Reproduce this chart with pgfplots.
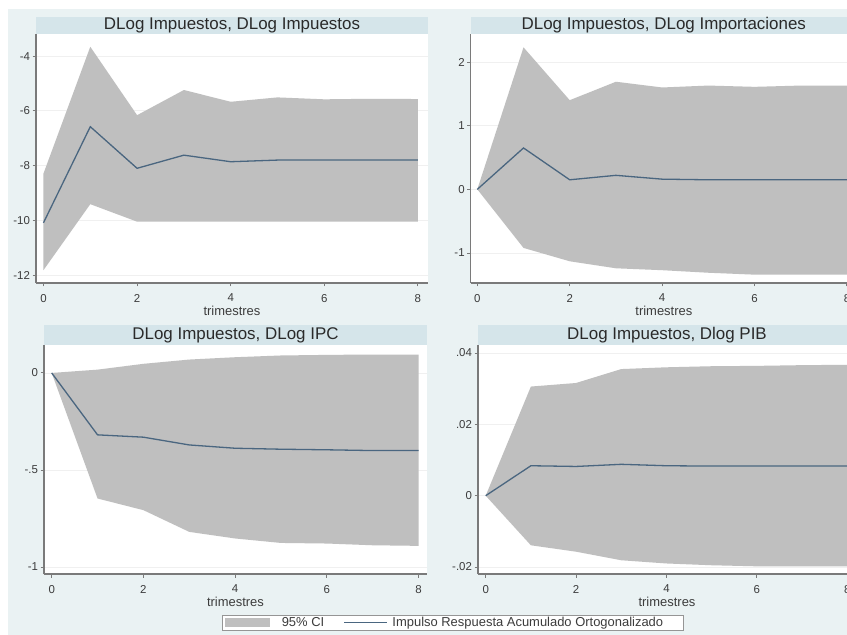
\documentclass[border=0pt]{standalone}
\usepackage{fontspec}
\setmainfont{Liberation Sans}
\usepackage{pgfplots}
\pgfplotsset{compat=1.18}
\usepackage{pgfplotstable}
\definecolor{bgblue}{HTML}{EAF2F3}
\definecolor{barblue}{HTML}{D5E5EA}
\definecolor{band}{HTML}{BFBFBF}
\definecolor{irfline}{HTML}{4A6680}
\definecolor{axcol}{HTML}{7A7A7A}
\definecolor{txt}{HTML}{3C3C3C}
\definecolor{ttl}{HTML}{2A2A2A}

% point estimates (accumulated orthogonalized IRF)
\pgfplotstableread{
x est
0 -10.09
1 -6.58
2 -8.10
3 -7.62
4 -7.86
5 -7.80
6 -7.80
7 -7.80
8 -7.80
}\estTL
\pgfplotstableread{
x est
0 0
1 0.65
2 0.15
3 0.22
4 0.16
5 0.15
6 0.15
7 0.15
8 0.15
}\estTR
\pgfplotstableread{
x est
0 0
1 -0.319
2 -0.331
3 -0.371
4 -0.388
5 -0.393
6 -0.396
7 -0.400
8 -0.400
}\estBL
\pgfplotstableread{
x est
0 0
1 0.0084
2 0.0082
3 0.0088
4 0.0084
5 0.0083
6 0.0083
7 0.0083
8 0.0083
}\estBR
% 95% CI bands: upper bound 0..8, then lower bound 8..0
\pgfplotstableread{
x y
0 -8.29
1 -3.66
2 -6.16
3 -5.24
4 -5.67
5 -5.51
6 -5.58
7 -5.56
8 -5.57
8 -10.05
7 -10.05
6 -10.05
5 -10.05
4 -10.05
3 -10.05
2 -10.05
1 -9.41
0 -11.82
}\ciTL
\pgfplotstableread{
x y
0 0
1 2.23
2 1.40
3 1.69
4 1.60
5 1.63
6 1.61
7 1.63
8 1.63
8 -1.34
7 -1.34
6 -1.34
5 -1.31
4 -1.27
3 -1.24
2 -1.13
1 -0.92
0 0
}\ciTR
\pgfplotstableread{
x y
0 0
1 0.017
2 0.047
3 0.069
4 0.081
5 0.090
6 0.093
7 0.095
8 0.095
8 -0.891
7 -0.888
6 -0.879
5 -0.876
4 -0.853
3 -0.819
2 -0.707
1 -0.647
0 0
}\ciBL
\pgfplotstableread{
x y
0 0
1 0.0306
2 0.0316
3 0.0355
4 0.0360
5 0.0363
6 0.0364
7 0.0366
8 0.0367
8 -0.0198
7 -0.0198
6 -0.0198
5 -0.0195
4 -0.0190
3 -0.0181
2 -0.0157
1 -0.0139
0 0
}\ciBR

\pgfplotsset{irf/.style={
  scale only axis, axis lines=left,
  axis line style={-, draw=axcol, line width=1.1bp},
  axis background/.style={fill=white},
  tick align=outside, major tick length=3.5bp,
  every tick/.style={draw=axcol, line width=0.9bp},
  xtick={0,2,4,6,8}, xticklabels={0,2,4,6,8},
  scaled y ticks=false,
  ymajorgrids, grid style={draw=black!6, line width=0.8bp},
  tick label style={font=\fontsize{11.5}{12}\selectfont, text=txt},
  xlabel={trimestres},
  label style={font=\fontsize{13}{14}\selectfont, text=txt},
  xlabel style={yshift=3bp},
  xticklabel style={yshift=-4bp},
  yticklabel style={xshift=1bp},
  /pgf/number format/assume math mode=true,
}}

\newcommand{\irfplots}[2]{%
  \addplot[fill=band, draw=none, area legend,
    legend image code/.code={\fill[band] (0bp,-4.5bp) rectangle (45bp,4.5bp); \path (55bp,0bp);}]
    table[x=x,y=y]{#1};
  \addplot[irfline, line width=1.3bp,
    legend image code/.code={\draw[irfline, line width=1.1bp] (0bp,0bp) -- (43bp,0bp); \path (46bp,0bp);}]
    table[x=x,y=est]{#2};
}

\begin{document}
\begin{tikzpicture}
\fill[white] (0bp,0bp) rectangle (847bp,635bp);
\fill[bgblue] (8bp,0bp) rectangle (847bp,626bp);
% title bars
\fill[barblue] (36bp,601bp) rectangle (428bp,618bp);
\fill[barblue] (470.7bp,601bp) rectangle (860bp,618bp);
\fill[barblue] (44bp,290bp) rectangle (427bp,310bp);
\fill[barblue] (478bp,290bp) rectangle (860bp,310bp);
\begin{scope}[every node/.style={font=\fontsize{17}{18}\selectfont, text=ttl}]
\node at (232bp,609.5bp) {DLog Impuestos, DLog Impuestos};
\node at (663.8bp,609.5bp) {DLog Impuestos, DLog Importaciones};
\node at (235.5bp,300bp) {DLog Impuestos, DLog IPC};
\node at (667bp,300bp) {DLog Impuestos, Dlog PIB};
\end{scope}

% top-left
\begin{axis}[irf, at={(36bp,352bp)}, anchor=south west,
  width=392bp, height=249bp,
  xmin=-0.16, xmax=8.216, ymin=-12.29, ymax=-3.194,
  ytick={-12,-10,-8,-6,-4}, yticklabels={-12,-10,-8,-6,-4}]
  \irfplots{\ciTL}{\estTL}
\end{axis}

% top-right
\begin{axis}[irf, at={(470.7bp,352bp)}, anchor=south west,
  width=386.3bp, height=249bp,
  xmin=-0.143, xmax=8.218, ymin=-1.471, ymax=2.44,
  ytick={-1,0,1,2}, yticklabels={-1,0,1,2}]
  \irfplots{\ciTR}{\estTR}
\end{axis}

% bottom-left
\begin{axis}[irf, at={(44bp,61bp)}, anchor=south west,
  width=383bp, height=229bp,
  xmin=-0.168, xmax=8.185, ymin=-1.036, ymax=0.144,
  ytick={-1,-0.5,0}, yticklabels={-1,-.5,0},
  legend columns=2,
  legend style={at={(axis description cs:0.465,-0.179)}, anchor=north west,
    draw=axcol!80, fill=white, font=\fontsize{13}{14}\selectfont, text=txt,
    inner xsep=3bp, inner ysep=0.5bp,
    nodes={inner sep=1.5bp},
    /tikz/every even column/.append style={column sep=18bp}},
  legend cell align=left]
  \irfplots{\ciBL}{\estBL}
  \addlegendentry{95\% CI}
  \addlegendentry{Impulso Respuesta Acumulado Ortogonalizado\kern16bp\mbox{}}
\end{axis}

% bottom-right
\begin{axis}[irf, at={(478bp,61bp)}, anchor=south west,
  width=378bp, height=229bp,
  xmin=-0.170, xmax=8.193, ymin=-0.02195, ymax=0.04225,
  ytick={-0.02,0,0.02,0.04}, yticklabels={-.02,0,.02,.04}]
  \irfplots{\ciBR}{\estBR}
\end{axis}
\pgfresetboundingbox
\useasboundingbox (0bp,0bp) rectangle (847bp,635bp);
\end{tikzpicture}
\end{document}
